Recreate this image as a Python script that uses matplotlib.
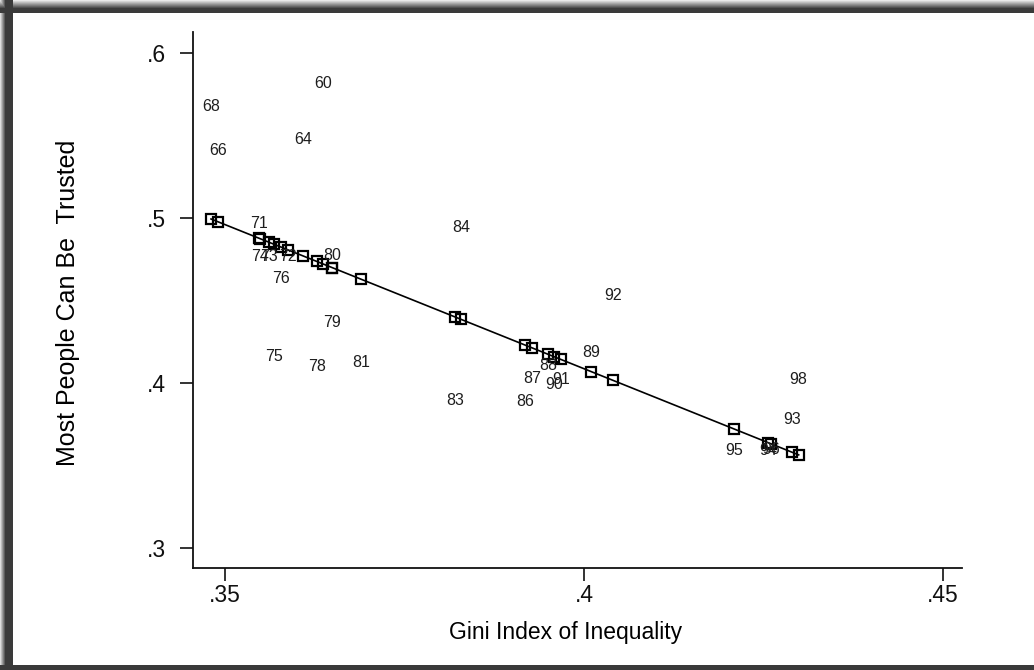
import numpy as np
import matplotlib
matplotlib.use("Agg")
import matplotlib.pyplot as plt

# ---- data ----
years = ['60', '64', '66', '68', '71', '72', '73', '74', '75', '76', '78', '79', '80', '81',
         '83', '84', '86', '87', '88', '89', '90', '91', '92', '93', '94', '95', '96', '98']
gini = [0.3636, 0.3609, 0.3490, 0.34805, 0.3547, 0.3588, 0.3561, 0.3549, 0.3568, 0.3578,
        0.3628, 0.3649, 0.3649, 0.3689, 0.3820, 0.3829, 0.3918, 0.3928, 0.3950, 0.4010,
        0.3958, 0.3968, 0.4040, 0.4290, 0.4256, 0.4209, 0.4260, 0.4299]
trust = [0.5812, 0.5473, 0.5406, 0.5673, 0.4964, 0.4764, 0.4764, 0.4764, 0.4158, 0.4636,
         0.4103, 0.4364, 0.4770, 0.4127, 0.3897, 0.4945, 0.3885, 0.4030, 0.4109, 0.4182,
         0.3988, 0.4024, 0.4533, 0.3776, 0.3594, 0.3594, 0.3600, 0.4024]
fit_intercept = 1.1073
fit_slope = -1.7466
x_ticks = [0.35, 0.40, 0.45]
x_ticklabels = ['.35', '.4', '.45']
y_ticks = [0.3, 0.4, 0.5, 0.6]
y_ticklabels = ['.3', '.4', '.5', '.6']

plt.rcParams['font.family'] = ['Liberation Sans', 'DejaVu Sans']

W, H = 1034, 670
fig = plt.figure(figsize=(W / 100, H / 100), dpi=100)

# ---- decorative frame (dark border with soft shadow) ----
bg = np.ones((H, W, 3))
dark = np.array([0.23, 0.23, 0.23])
yy = np.arange(H)[:, None]
xx = np.arange(W)[None, :]
a_top = np.clip((yy + 1) / 9.0, 0, 1) * (yy < 13)
a_left = np.clip((xx + 1) / 6.0, 0, 1) * (xx < 13)
a_bot = (yy >= 665).astype(float)
alpha = np.maximum(np.maximum(a_top, a_left), a_bot)
alpha = np.broadcast_to(alpha, (H, W))
img = bg * (1 - alpha[..., None]) + dark * alpha[..., None]
bax = fig.add_axes([0, 0, 1, 1], zorder=-5)
bax.imshow(img, aspect='auto', interpolation='nearest')
bax.set_axis_off()

# ---- main axes ----
ax = fig.add_axes([193 / W, 1 - 568 / H, (962 - 193) / W, (568 - 32) / H])
ax.patch.set_alpha(0)
ax.set_xlim(0.34554, 0.45265)
ax.set_ylim(0.2879, 0.6127)

g = np.array(gini)
order = np.argsort(g)
gs = g[order]
fitted = fit_intercept + fit_slope * gs
ax.plot(gs, fitted, color='black', lw=1.2, marker='s', markersize=7.2,
        markerfacecolor='none', markeredgecolor='black', markeredgewidth=1.6, zorder=3)

for yr, xv, yv in zip(years, gini, trust):
    ax.text(xv, yv, yr, ha='center', va='center', fontsize=11.5, color='#1e1e1e', zorder=4)

ax.set_xticks(x_ticks)
ax.set_xticklabels(x_ticklabels)
ax.set_yticks(y_ticks)
ax.set_yticklabels(y_ticklabels)
for s in ['top', 'right']:
    ax.spines[s].set_visible(False)
for s in ['left', 'bottom']:
    ax.spines[s].set_linewidth(1.3)
    ax.spines[s].set_color('#111111')
ax.tick_params(axis='both', direction='out', length=9.5, width=1.2, labelsize=16.5,
               colors='#111111')
ax.tick_params(axis='x', pad=2)
ax.tick_params(axis='y', pad=10)
ax.set_xlabel('Gini Index of Inequality', fontsize=16.5)
ax.set_ylabel('Most People Can Be  Trusted', fontsize=18)
# label centres as in the reference (pixels -> axes fraction)
ax.xaxis.set_label_coords((566 - 193) / (962 - 193), -(633 - 568) / (568 - 32))
ax.yaxis.set_label_coords(-(193 - 68) / (962 - 193), (568 - 303) / (568 - 32))
ax.xaxis.label.set_va('center')
ax.yaxis.label.set_va('center')

fig.savefig('out.png', dpi=100)
